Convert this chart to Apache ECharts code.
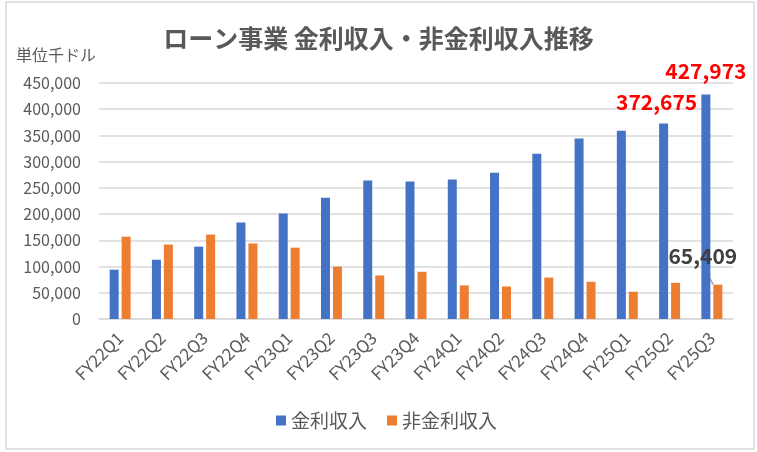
<!DOCTYPE html>
<html>
<head>
<meta charset="utf-8">
<script src="https://cdn.jsdelivr.net/npm/echarts@6/dist/echarts.min.js"></script>
<style>
  html, body { margin: 0; padding: 0; background: #fff; }
  #chart { width: 757px; height: 452px; }
</style>
</head>
<body>
<div id="chart"></div>
<script>
const quarters = ['FY22Q1', 'FY22Q2', 'FY22Q3', 'FY22Q4', 'FY23Q1', 'FY23Q2', 'FY23Q3', 'FY23Q4',
    'FY24Q1', 'FY24Q2', 'FY24Q3', 'FY24Q4', 'FY25Q1', 'FY25Q2', 'FY25Q3'];
const interestIncome = [94000, 113000, 138000, 184000, 201000, 231000, 264000, 262000,
    266000, 279000, 315000, 344000, 359000, 372675, 427973];
const nonInterestIncome = [157000, 142000, 161000, 144000, 136000, 100000, 83000, 90000,
    64000, 62000, 79000, 71000, 52000, 69000, 65409];
const yTicks = [0, 450000, 50000]; // min, max, interval

const font = '"Noto Sans CJK JP", "Noto Sans", sans-serif';
const grey = '#595959';

window.onload = initChart;

function initChart() {
    let chart = echarts.init(document.getElementById('chart'));

    // red labels on the last two interest bars
    let blueData = interestIncome.map(function (v, i) {
        if (i < interestIncome.length - 2) return v;
        return {
            value: v,
            label: {
                show: true,
                position: 'top',
                distance: i === interestIncome.length - 1 ? 13 : 11,
                offset: i === interestIncome.length - 1 ? [0, 0] : [-7, 0],
                color: '#ff0000',
                fontSize: 21,
                fontWeight: 'bold',
                fontFamily: font,
                formatter: function (p) { return p.value.toLocaleString('en-US'); }
            }
        };
    });

    // grey label with leader line on the last non-interest bar
    let orangeData = nonInterestIncome.map(function (v, i) {
        if (i < nonInterestIncome.length - 1) return v;
        return {
            value: v,
            label: {
                show: true,
                position: 'top',
                distance: 4,
                color: '#404040',
                fontSize: 21,
                fontWeight: 'bold',
                fontFamily: font,
                formatter: function (p) { return p.value.toLocaleString('en-US'); }
            },
            labelLine: {
                show: true,
                lineStyle: { color: '#a6a6a6', width: 1.5 }
            }
        };
    });

    let option = {
        backgroundColor: '#fff',
        animation: false,
        title: {
            text: 'ローン事業 金利収入・非金利収入推移',
            left: 'center',
            top: 21,
            textStyle: { color: grey, fontSize: 25, fontWeight: 'bold', fontFamily: font }
        },
        graphic: [
            {
                type: 'rect',
                shape: { x: 6, y: 2, width: 748, height: 447 },
                style: { fill: 'none', stroke: '#d9d9d9', lineWidth: 1.5 },
                silent: true
            },
            {
                type: 'text',
                left: 16,
                top: 47,
                style: { text: '単位千ドル', fill: grey, fontSize: 16, fontFamily: font }
            }
        ],
        legend: {
            bottom: 17,
            left: 271,
            itemWidth: 10,
            itemHeight: 10,
            itemGap: 20,
            icon: 'rect',
            textStyle: { color: grey, fontSize: 19, fontFamily: font }
        },
        grid: { left: 99, right: 24, top: 83, bottom: 133 },
        xAxis: {
            type: 'category',
            data: quarters,
            axisLine: { lineStyle: { color: '#d9d9d9', width: 1.5 } },
            axisTick: { show: false },
            axisLabel: { rotate: 45, color: grey, fontSize: 17, fontFamily: font, margin: 16 }
        },
        yAxis: {
            type: 'value',
            min: yTicks[0],
            max: yTicks[1],
            interval: yTicks[2],
            axisLine: { show: false },
            axisTick: { show: false },
            splitLine: { lineStyle: { color: '#d9d9d9', width: 1.5 } },
            axisLabel: {
                color: grey,
                fontSize: 16,
                fontFamily: font,
                margin: 18,
                formatter: function (v) { return v.toLocaleString('en-US'); }
            }
        },
        series: [
            {
                name: '金利収入',
                type: 'bar',
                data: blueData,
                barWidth: 9,
                barGap: '33%',
                itemStyle: { color: '#4472c4' }
            },
            {
                name: '非金利収入',
                type: 'bar',
                data: orangeData,
                barWidth: 9,
                itemStyle: { color: '#ed7d31' },
                labelLayout: function (params) {
                    if (params.dataIndex === nonInterestIncome.length - 1) {
                        return { dx: -15, dy: -14 };
                    }
                    return {};
                }
            }
        ]
    };
    chart.setOption(option);
}
</script>
</body>
</html>
